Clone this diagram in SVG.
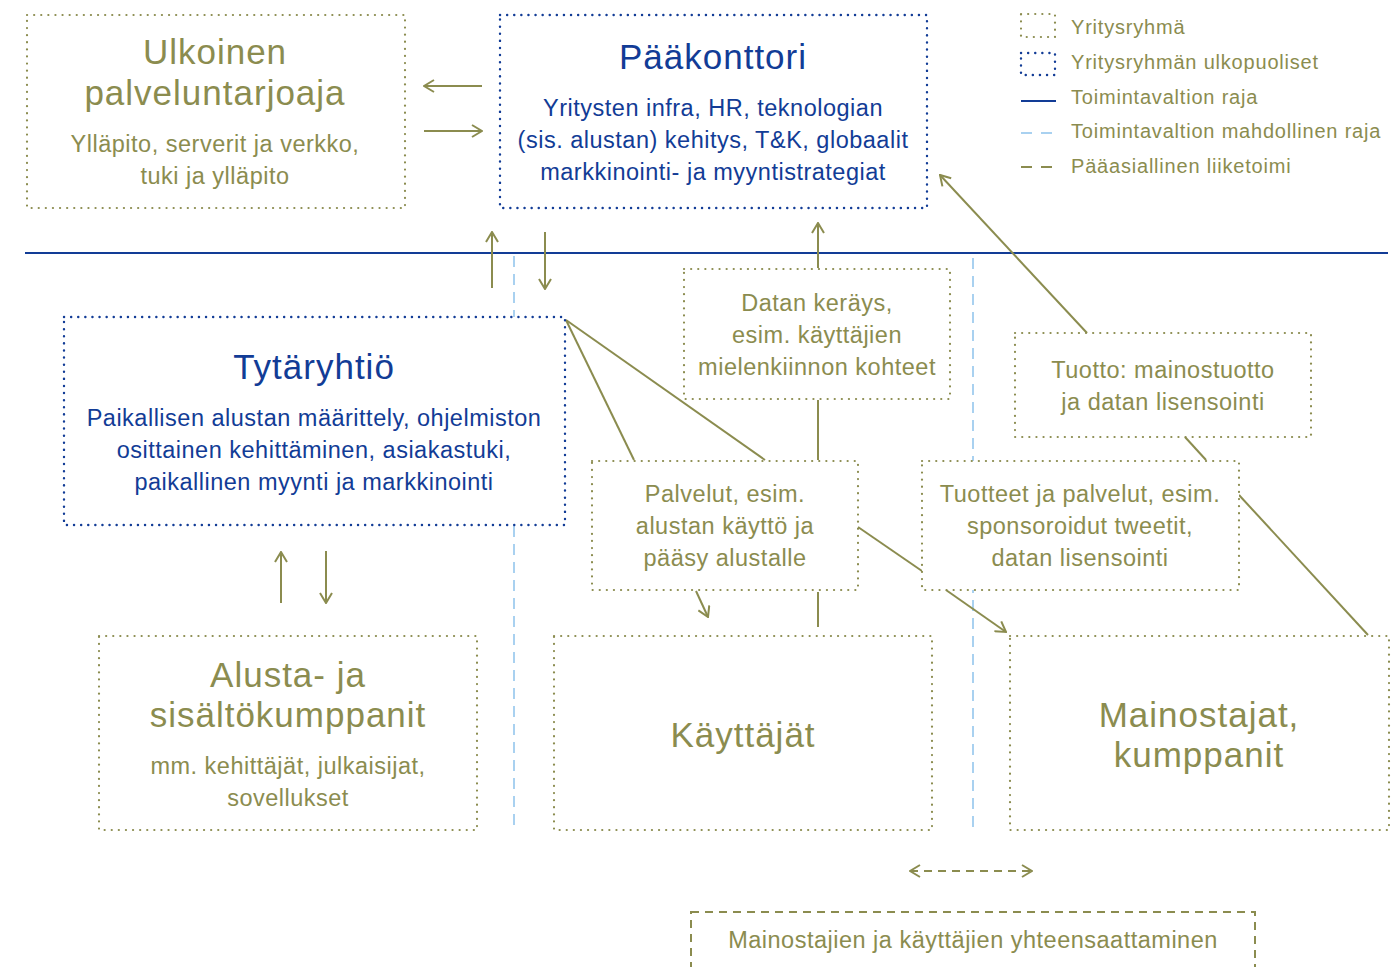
<svg xmlns="http://www.w3.org/2000/svg" width="1398" height="967" viewBox="0 0 1398 967">
<style>
text{font-family:"Liberation Sans",Arial,sans-serif;text-anchor:middle}
.o{fill:#8b8c4f}
.b{fill:#123c96}
.t{font-size:35px;letter-spacing:1px}
.s{font-size:23.5px;letter-spacing:0.5px}
.l{font-size:20px;letter-spacing:0.8px;text-anchor:start;fill:#8b8c4f}
.dotO{fill:#fff;stroke:#8b8c4f;stroke-width:2.2;stroke-dasharray:0.1 7;stroke-linecap:round}
.dotB{fill:#fff;stroke:#123c96;stroke-width:2.4;stroke-dasharray:0.1 7;stroke-linecap:round}
.con{fill:none;stroke:#8b8c4f;stroke-width:2}
.dashO{fill:none;stroke:#8b8c4f;stroke-width:2;stroke-dasharray:8 6}
.lb{fill:none;stroke:#a9d1f0;stroke-width:2;stroke-dasharray:11 7}
.border{stroke:#123c96;stroke-width:2.2}
</style>
<defs>
<marker id="ah" viewBox="0 0 12 14" refX="11" refY="7" markerWidth="12" markerHeight="14" markerUnits="userSpaceOnUse" orient="auto">
<path d="M1,1 L11,7 L1,13" fill="none" stroke="#8b8c4f" stroke-width="2"/>
</marker>
<marker id="ahs" viewBox="0 0 12 14" refX="1" refY="7" markerWidth="12" markerHeight="14" markerUnits="userSpaceOnUse" orient="auto">
<path d="M11,1 L1,7 L11,13" fill="none" stroke="#8b8c4f" stroke-width="2"/>
</marker>
</defs>
<rect width="1398" height="967" fill="#fff"/>

<g id="borders">
<line class="border" x1="25" y1="253" x2="1388" y2="253"/>
<line class="lb" x1="514" y1="256" x2="514" y2="828"/>
<line class="lb" x1="973" y1="258" x2="973" y2="828"/>
</g>

<g id="connectors">
<line class="con" x1="482" y1="86" x2="424" y2="86" marker-end="url(#ah)"/>
<line class="con" x1="424" y1="131" x2="482" y2="131" marker-end="url(#ah)"/>
<line class="con" x1="492" y1="288" x2="492" y2="232" marker-end="url(#ah)"/>
<line class="con" x1="545" y1="232" x2="545" y2="289" marker-end="url(#ah)"/>
<line class="con" x1="818" y1="268" x2="818" y2="223" marker-end="url(#ah)"/>
<line class="con" x1="566" y1="320" x2="634" y2="460"/>
<line class="con" x1="566" y1="320" x2="765" y2="460"/>
<line class="con" x1="818" y1="400" x2="818" y2="460"/>
<line class="con" x1="696" y1="591" x2="708" y2="617" marker-end="url(#ah)"/>
<line class="con" x1="818" y1="592" x2="818" y2="627"/>
<line class="con" x1="858" y1="527" x2="922" y2="571"/>
<line class="con" x1="946" y1="590" x2="1006" y2="632" marker-end="url(#ah)"/>
<line class="con" x1="1087" y1="333" x2="940" y2="175" marker-end="url(#ah)"/>
<line class="con" x1="1185" y1="437" x2="1206" y2="460"/>
<line class="con" x1="1239" y1="495" x2="1368" y2="635"/>
<line class="con" x1="281" y1="603" x2="281" y2="552" marker-end="url(#ah)"/>
<line class="con" x1="326" y1="551" x2="326" y2="603" marker-end="url(#ah)"/>
<line class="dashO" x1="910" y1="871" x2="1032" y2="871" marker-start="url(#ahs)" marker-end="url(#ah)"/>
</g>

<g id="ulkoinen">
<rect class="dotO" x="27" y="15" width="378" height="193"/>
<text class="o t" x="215" y="64">Ulkoinen</text>
<text class="o t" x="215" y="105">palveluntarjoaja</text>
<text class="o s" x="215" y="152">Ylläpito, serverit ja verkko,</text>
<text class="o s" x="215" y="184">tuki ja ylläpito</text>
</g>

<g id="paakonttori">
<rect class="dotB" x="500" y="15" width="427" height="193"/>
<text class="b t" x="713" y="69">Pääkonttori</text>
<text class="b s" x="713" y="116">Yritysten infra, HR, teknologian</text>
<text class="b s" x="713" y="148">(sis. alustan) kehitys, T&amp;K, globaalit</text>
<text class="b s" x="713" y="180">markkinointi- ja myyntistrategiat</text>
</g>

<g id="datan">
<rect class="dotO" x="684" y="269" width="266" height="130"/>
<text class="o s" x="817" y="311">Datan keräys,</text>
<text class="o s" x="817" y="343">esim. käyttäjien</text>
<text class="o s" x="817" y="375">mielenkiinnon kohteet</text>
</g>

<g id="tytaryhtio">
<rect class="dotB" x="64" y="317" width="501" height="208"/>
<text class="b t" x="314" y="379">Tytäryhtiö</text>
<text class="b s" x="314" y="426">Paikallisen alustan määrittely, ohjelmiston</text>
<text class="b s" x="314" y="458">osittainen kehittäminen, asiakastuki,</text>
<text class="b s" x="314" y="490">paikallinen myynti ja markkinointi</text>
</g>

<g id="tuotto">
<rect class="dotO" x="1015" y="333" width="296" height="104"/>
<text class="o s" x="1163" y="378">Tuotto: mainostuotto</text>
<text class="o s" x="1163" y="410">ja datan lisensointi</text>
</g>

<g id="palvelut">
<rect class="dotO" x="592" y="461" width="266" height="129"/>
<text class="o s" x="725" y="502">Palvelut, esim.</text>
<text class="o s" x="725" y="534">alustan käyttö ja</text>
<text class="o s" x="725" y="566">pääsy alustalle</text>
</g>

<g id="tuotteet">
<rect class="dotO" x="922" y="461" width="317" height="129"/>
<text class="o s" x="1080" y="502">Tuotteet ja palvelut, esim.</text>
<text class="o s" x="1080" y="534">sponsoroidut tweetit,</text>
<text class="o s" x="1080" y="566">datan lisensointi</text>
</g>

<g id="alusta">
<rect class="dotO" x="99" y="636" width="378" height="194"/>
<text class="o t" x="288" y="687">Alusta- ja</text>
<text class="o t" x="288" y="727">sisältökumppanit</text>
<text class="o s" x="288" y="774">mm. kehittäjät, julkaisijat,</text>
<text class="o s" x="288" y="806">sovellukset</text>
</g>

<g id="kayttajat">
<rect class="dotO" x="554" y="636" width="378" height="194"/>
<text class="o t" x="743" y="747">Käyttäjät</text>
</g>

<g id="mainostajat">
<rect class="dotO" x="1010" y="636" width="379" height="194"/>
<text class="o t" x="1199" y="727">Mainostajat,</text>
<text class="o t" x="1199" y="767">kumppanit</text>
</g>

<g id="yhteensaattaminen">
<rect class="dashO" x="691" y="912" width="564" height="60"/>
<text class="o s" x="973" y="948">Mainostajien ja käyttäjien yhteensaattaminen</text>
</g>

<g id="legend">
<rect class="dotO" x="1021" y="14" width="34" height="23"/>
<text class="l" x="1071" y="34">Yritysryhmä</text>
<rect class="dotB" x="1021" y="53" width="34" height="22"/>
<text class="l" x="1071" y="69">Yritysryhmän ulkopuoliset</text>
<line x1="1021" y1="101" x2="1056" y2="101" stroke="#123c96" stroke-width="2.2"/>
<text class="l" x="1071" y="104">Toimintavaltion raja</text>
<line x1="1021" y1="133" x2="1056" y2="133" stroke="#a9d1f0" stroke-width="2.2" stroke-dasharray="11 9"/>
<text class="l" x="1071" y="138">Toimintavaltion mahdollinen raja</text>
<line x1="1021" y1="167" x2="1056" y2="167" stroke="#8b8c4f" stroke-width="2.2" stroke-dasharray="11 9"/>
<text class="l" x="1071" y="173">Pääasiallinen liiketoimi</text>
</g>
</svg>
